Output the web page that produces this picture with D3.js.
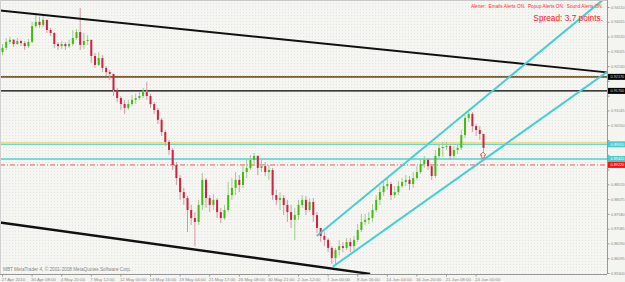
<!DOCTYPE html>
<html><head><meta charset="utf-8">
<script src="https://cdn.jsdelivr.net/npm/d3@7/dist/d3.min.js"></script>
<style>html,body{margin:0;padding:0;background:#f4f4f1;overflow:hidden}</style>
</head><body><svg id="c" width="625" height="282"></svg>
<script>
// ---------- DATA ----------
const firstOpen = 0.9300;
const closes = [
0.9314,0.9334,0.9341,0.9327,0.9337,0.9330,0.9320,0.9334,0.9387,0.9401,
0.9391,0.9408,0.9374,0.9364,0.9327,0.9320,0.9327,0.9320,0.9327,0.9347,
0.9367,0.9324,0.9337,0.9341,0.9287,0.9257,0.9280,0.9247,0.9233,0.9227,
0.9173,0.9146,0.9126,0.9113,0.9126,0.9140,0.9146,0.9153,0.9166,0.9153,
0.9126,0.9106,0.9073,0.9032,0.8999,0.8972,0.8922,0.8878,0.8831,0.8811,
0.8771,0.8744,0.8731,0.8788,0.8872,0.8811,0.8788,0.8805,0.8764,0.8744,
0.8771,0.8821,0.8845,0.8872,0.8855,0.8898,0.8912,0.8939,0.8952,0.8912,
0.8918,0.8898,0.8905,0.8821,0.8805,0.8811,0.8788,0.8764,0.8738,0.8754,
0.8788,0.8805,0.8771,0.8798,0.8754,0.8711,0.8684,0.8671,0.8644,0.8610,
0.8637,0.8650,0.8644,0.8664,0.8650,0.8671,0.8704,0.8731,0.8738,0.8744,
0.8771,0.8805,0.8831,0.8851,0.8858,0.8821,0.8831,0.8851,0.8865,0.8872,
0.8858,0.8878,0.8898,0.8925,0.8939,0.8918,0.8885,0.8952,0.8979,0.8982,
0.8985,0.8952,0.8972,0.8979,0.9022,0.9079,0.9093,0.9052,0.9039,0.9026,
0.8979];
const highs = [
0.9327,0.9347,0.9351,0.9344,0.9347,0.9341,0.9337,0.9344,0.9401,0.9424,
0.9418,0.9424,0.9408,0.9381,0.9367,0.9334,0.9337,0.9334,0.9341,0.9374,
0.9377,0.9448,0.9364,0.9357,0.9341,0.9297,0.9300,0.9290,0.9253,0.9240,
0.9227,0.9180,0.9153,0.9140,0.9140,0.9156,0.9160,0.9166,0.9180,0.9200,
0.9160,0.9133,0.9113,0.9079,0.9039,0.9006,0.8979,0.8932,0.8888,0.8845,
0.8818,0.8788,0.8764,0.8805,0.8895,0.8878,0.8821,0.8825,0.8811,0.8778,
0.8788,0.8865,0.8878,0.8898,0.8888,0.8922,0.8939,0.8955,0.8962,0.8955,
0.8939,0.8932,0.8922,0.8912,0.8838,0.8831,0.8821,0.8805,0.8788,0.8778,
0.8805,0.8821,0.8818,0.8811,0.8811,0.8764,0.8711,0.8697,0.8677,0.8650,
0.8644,0.8671,0.8664,0.8677,0.8677,0.8684,0.8724,0.8758,0.8758,0.8764,
0.8791,0.8821,0.8851,0.8865,0.8878,0.8865,0.8851,0.8868,0.8878,0.8888,
0.8885,0.8898,0.8918,0.8939,0.8952,0.8945,0.8925,0.8972,0.8992,0.8999,
0.8999,0.8992,0.8985,0.8992,0.9039,0.9089,0.9106,0.9099,0.9059,0.9052,
0.9026];
const lows = [
0.9290,0.9307,0.9327,0.9317,0.9324,0.9320,0.9307,0.9314,0.9330,0.9381,
0.9381,0.9384,0.9364,0.9354,0.9314,0.9307,0.9310,0.9307,0.9314,0.9320,
0.9341,0.9307,0.9310,0.9324,0.9263,0.9247,0.9253,0.9233,0.9220,0.9206,
0.9153,0.9133,0.9106,0.9093,0.9106,0.9119,0.9126,0.9140,0.9146,0.9140,
0.9113,0.9093,0.9059,0.9019,0.8985,0.8955,0.8905,0.8855,0.8805,0.8788,
0.8697,0.8721,0.8650,0.8721,0.8771,0.8778,0.8764,0.8771,0.8744,0.8727,
0.8738,0.8764,0.8805,0.8821,0.8831,0.8845,0.8878,0.8905,0.8922,0.8888,
0.8898,0.8885,0.8872,0.8805,0.8788,0.8771,0.8754,0.8731,0.8711,0.8671,
0.8738,0.8778,0.8754,0.8764,0.8731,0.8694,0.8664,0.8650,0.8630,0.8590,
0.8583,0.8620,0.8630,0.8637,0.8630,0.8637,0.8664,0.8697,0.8721,0.8724,
0.8731,0.8764,0.8788,0.8818,0.8838,0.8805,0.8811,0.8821,0.8845,0.8851,
0.8838,0.8845,0.8872,0.8892,0.8912,0.8905,0.8872,0.8878,0.8945,0.8949,
0.8972,0.8939,0.8945,0.8959,0.8972,0.9012,0.9066,0.9032,0.9019,0.9006,
0.8959];
const dateLabels = ["27 Apr 2010","30 Apr 08:00","4 May 20:00","7 May 12:00","12 May 00:00",
  "14 May 16:00","19 May 04:00","21 May 17:00","26 May 08:00","30 May 21:00","2 Jun 12:00",
  "7 Jun 00:00","9 Jun 16:00","14 Jun 04:00","16 Jun 20:00","21 Jun 08:00","24 Jun 00:00"];
const dateLabelBars = [0,8,16,24,32,40,48,56,64,72,80,88,96,104,112,120,128];
const priceTicks = [0.94510,0.94015,0.93520,0.93025,0.92530,0.92035,0.91540,0.91045,0.90550,
  0.90055,0.89560,0.89065,0.88570,0.88075,0.87580,0.87085,0.86590,0.86095,0.85600];
// horizontal levels
const blackLevels = [0.9217, 0.9170];
const yellowLevel = 0.8996;
const cyanLevels = [0.8991, 0.8942];
const redLevel = 0.8922;
// trend lines: [barIndex, price]
const upperBlackLine = [[-0.54,0.9439],[163.5,0.9232]];
const lowerBlackLine = [[-0.54,0.8729],[99.5,0.8557]];
const upperCyanLine = [[85.05,0.8684],[162.4,0.9475]];
const lowerCyanLine = [[89.4,0.8581],[163.5,0.9233]];
const arrowPoint = [130, 0.8955];
const alertText = "Alerter:  Emails Alerts ON.  Popup Alerts ON.  Sound Alerts ON.";
const spreadText = "Spread: 3.7 points.";
const copyrightText = "MBT MetaTrader 4, \u00A9 2001-2008 MetaQuotes Software Corp.";

// ---------- LAYOUT ----------
const FONT = 'Liberation Sans, Arial, sans-serif';
const plotL = 0, plotR = 607, plotT = 1, plotB = 274;
const svg = d3.select('#c');
const defs = svg.append('defs');
const pat = defs.append('pattern').attr('id','dots').attr('width',3).attr('height',3)
  .attr('patternUnits','userSpaceOnUse');
pat.append('rect').attr('width',3).attr('height',3).attr('fill','#f5f5f2');
pat.append('rect').attr('x',0).attr('y',0).attr('width',1).attr('height',1).attr('fill','#e4e4e0');
defs.append('clipPath').attr('id','clip').append('rect')
  .attr('x',plotL).attr('y',plotT).attr('width',plotR-plotL).attr('height',plotB-plotT);

svg.append('rect').attr('width',625).attr('height',282).attr('fill','#f4f4f1');
svg.append('rect').attr('x',plotL).attr('y',plotT).attr('width',plotR-plotL).attr('height',plotB-plotT)
  .attr('fill','url(#dots)');

const x = d3.scaleLinear().domain([0,130]).range([2,483]);
const y = d3.scaleLinear().domain([0.94510,0.85600]).range([7,273]);

const g = svg.append('g').attr('clip-path','url(#clip)');

// horizontal levels
g.selectAll('.bl').data(blackLevels).enter().append('line')
  .attr('x1',plotL).attr('x2',plotR).attr('y1',d=>y(d)).attr('y2',d=>y(d))
  .attr('stroke',(d,i)=>i===0?'#5a5550':'#000').attr('stroke-width',(d,i)=>i===0?1.6:1.1);
g.append('line').attr('x1',plotL).attr('x2',plotR).attr('y1',y(blackLevels[0])-0.5).attr('y2',y(blackLevels[0])-0.5)
  .attr('stroke','#b08040').attr('stroke-width',0.6).attr('stroke-dasharray','1,1');
g.append('line').attr('x1',plotL).attr('x2',plotR).attr('y1',y(yellowLevel)).attr('y2',y(yellowLevel))
  .attr('stroke','#f2d060').attr('stroke-width',1.3);
g.selectAll('.cl').data(cyanLevels).enter().append('line')
  .attr('x1',plotL).attr('x2',plotR).attr('y1',d=>y(d)).attr('y2',d=>y(d))
  .attr('stroke','#50d0d0').attr('stroke-width',(d,i)=>i===0?1:1.4);
g.append('line').attr('x1',plotL).attr('x2',plotR).attr('y1',y(redLevel)).attr('y2',y(redLevel))
  .attr('stroke','#e86060').attr('stroke-width',1).attr('stroke-dasharray','5,2,1,2');

// candles
const candles = closes.map((c,i)=>({i, o: i===0?firstOpen:closes[i-1], c, h: highs[i], l: lows[i]}));
const up = '#44bb11', dn = '#cc2244';
g.selectAll('.wick').data(candles).enter().append('line')
  .attr('x1',d=>x(d.i)+0.5).attr('x2',d=>x(d.i)+0.5)
  .attr('y1',d=>y(d.h)).attr('y2',d=>y(d.l))
  .attr('stroke',d=>d.c>=d.o?'#9fcf8a':'#d89aa2').attr('stroke-width',1);
g.selectAll('.body').data(candles).enter().append('rect')
  .attr('x',d=>x(d.i)-0.5).attr('width',2)
  .attr('y',d=>y(Math.max(d.o,d.c)))
  .attr('height',d=>Math.max(1,Math.abs(y(d.o)-y(d.c))))
  .attr('fill',d=>d.c>=d.o?up:dn);

// trend lines
const line = d3.line().x(d=>x(d[0])).y(d=>y(d[1]));
[[upperBlackLine,'#111',2],[lowerBlackLine,'#111',2.4]].forEach(([d,c,w])=>{
  g.append('path').attr('d',line(d)).attr('stroke',c).attr('stroke-width',w).attr('fill','none');
});
[upperCyanLine, lowerCyanLine].forEach(d=>{
  g.append('path').attr('d',line(d)).attr('stroke','#45cfcf').attr('stroke-width',2).attr('fill','none');
});

// arrow
const ax = x(arrowPoint[0]), ay = y(arrowPoint[1]);
g.append('path').attr('d',`M${ax},${ay-3} L${ax+3},${ay} L${ax+1.3},${ay} L${ax+1.3},${ay+3} L${ax-1.3},${ay+3} L${ax-1.3},${ay} L${ax-3},${ay} Z`)
  .attr('fill','#fff').attr('stroke','#e04040').attr('stroke-width',0.8);

// frame
svg.append('line').attr('x1',0).attr('x2',plotR).attr('y1',0.5).attr('y2',0.5).attr('stroke','#c8c8c8');
svg.append('line').attr('x1',0.5).attr('x2',0.5).attr('y1',0).attr('y2',plotB).attr('stroke','#d0d0d0');
svg.append('line').attr('x1',0).attr('x2',plotR).attr('y1',plotB+0.5).attr('y2',plotB+0.5).attr('stroke','#999');

// highlighted price labels
const tags = [
  ...blackLevels.map(v=>({v,bg:'#000',fg:'#ddd'})),
  ...cyanLevels.map(v=>({v,bg:'#48cccc',fg:'#fff'})),
  {v:redLevel,bg:'#ff1010',fg:'#fff'}];

// right axis (tick labels hidden where a tag covers them)
const visibleTicks = priceTicks.filter(t=>tags.every(tg=>Math.abs(y(t)-y(tg.v))>5));
const ra = svg.append('g').attr('transform',`translate(${plotR+0.5},0)`)
  .call(d3.axisRight(y).tickValues(priceTicks).tickFormat(d=>visibleTicks.includes(d)?d3.format('.5f')(d):'')
    .tickSize(2).tickPadding(1.5));
ra.select('.domain').attr('stroke','#999').attr('d',`M0,0V${plotB}`);
ra.selectAll('.tick line').attr('stroke','#999');
ra.selectAll('text').attr('fill','#888').attr('font-size','3.8px').attr('font-family',FONT);

const tg = svg.append('g');
tg.selectAll('rect').data(tags).enter().append('rect')
  .attr('x',plotR+1).attr('width',625-plotR).attr('y',d=>y(d.v)-3).attr('height',6).attr('fill',d=>d.bg);
tg.selectAll('text').data(tags).enter().append('text')
  .attr('x',plotR+3.5).attr('y',d=>y(d.v)+1.4).text(d=>d3.format('.5f')(d.v))
  .attr('fill',d=>d.fg).attr('font-size','3.8px').attr('font-family',FONT);

// bottom axis
const ba = svg.append('g').attr('transform',`translate(0,${plotB+0.5})`)
  .call(d3.axisBottom(x).tickValues(dateLabelBars).tickFormat((d,i)=>dateLabels[i]).tickSize(2).tickPadding(1));
ba.select('.domain').remove();
ba.selectAll('.tick line').attr('stroke','#999');
ba.selectAll('text').attr('text-anchor','start').attr('dx','-1').attr('fill','#888')
  .attr('font-size','4.4px').attr('font-family',FONT);

// texts
svg.append('text').attr('x',603).attr('y',7.5).attr('text-anchor','end').attr('fill','#ff3030')
  .attr('font-size','4.7px').attr('font-family',FONT)
  .style('white-space','pre').text(alertText);
svg.append('text').attr('x',603).attr('y',21).attr('text-anchor','end').attr('fill','#ff2020')
  .attr('font-size','8.3px').attr('font-family',FONT).text(spreadText);
svg.append('text').attr('x',3).attr('y',271).attr('fill','#888')
  .attr('font-size','4.7px').attr('font-family',FONT).text(copyrightText);
</script></body></html>
